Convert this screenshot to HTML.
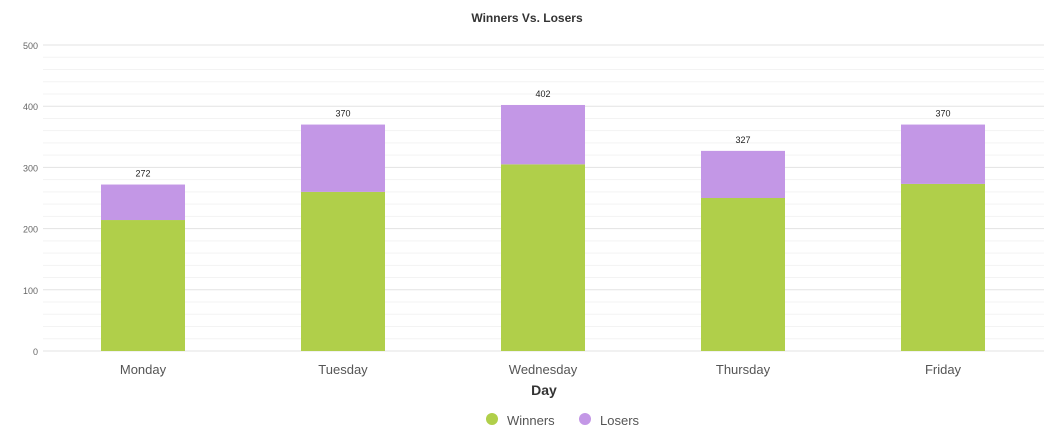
<!DOCTYPE html>
<html><head><meta charset="utf-8"><style>
body{margin:0;background:#fff;font-family:"Liberation Sans",sans-serif}
svg{display:block}
</style></head><body>
<svg id="chart" width="1054" height="446" xmlns="http://www.w3.org/2000/svg">
<text x="527" y="22" text-anchor="middle" font-size="12" font-weight="bold" fill="#333">Winners Vs. Losers</text>
<g id="grid"></g><g id="bars"></g><g id="labels"></g>
<text x="544" y="395" text-anchor="middle" font-size="14" font-weight="bold" fill="#333">Day</text>
<g>
<circle cx="492" cy="419" r="6" fill="#b0cf4a"/>
<text x="507" y="425" font-size="13" fill="#555">Winners</text>
<circle cx="585" cy="419" r="6" fill="#c397e6"/>
<text x="600" y="425" font-size="13" fill="#555">Losers</text>
</g>
</svg>
<script>
const categories=["Monday","Tuesday","Wednesday","Thursday","Friday"];
const winners=[214,260,305,250,273];
const totals=[272,370,402,327,370];
const yTicks=[0,100,200,300,400,500];
const NS="http://www.w3.org/2000/svg";
const y0=351,yMax=500,yTop=45;
function y(v){return y0-(v/yMax)*(y0-yTop);}
function x(i){return 143+i*200;}
function mk(t,a,p){const e=document.createElementNS(NS,t);for(const k in a)e.setAttribute(k,a[k]);p.appendChild(e);return e;}
const grid=document.getElementById('grid'),bars=document.getElementById('bars'),labels=document.getElementById('labels');
for(let v=0;v<=500;v+=20){
  const major=v%100===0;
  const l=mk('line',{x1:43,x2:1044,y1:y(v),y2:y(v),stroke:major?'#e3e3e3':'#f3f3f3','stroke-width':1},grid);
  
  
}
yTicks.forEach(v=>{
  const t=mk('text',{x:38,y:y(v)+4,'text-anchor':'end','font-size':9,fill:'#666'},labels);
  t.textContent=v;
  
  
});
categories.forEach((c,i)=>{
  const w=84,bx=x(i)-w/2;
  const g=mk('rect',{x:bx,y:y(winners[i]),width:w,height:y(0)-y(winners[i]),fill:'#b0cf4a'},bars);
  
  
  const l=mk('rect',{x:bx,y:y(totals[i]),width:w,height:y(winners[i])-y(totals[i]),fill:'#c397e6'},bars);
  
  
  const tl=mk('text',{x:x(i),y:y(totals[i])-8,'text-anchor':'middle','font-size':9,fill:'#222'},labels);
  tl.textContent=totals[i];
  
  
  const xl=mk('text',{x:x(i),y:374,'text-anchor':'middle','font-size':13,fill:'#555'},labels);
  xl.textContent=c;
  
  
});
</script>
</body></html>
